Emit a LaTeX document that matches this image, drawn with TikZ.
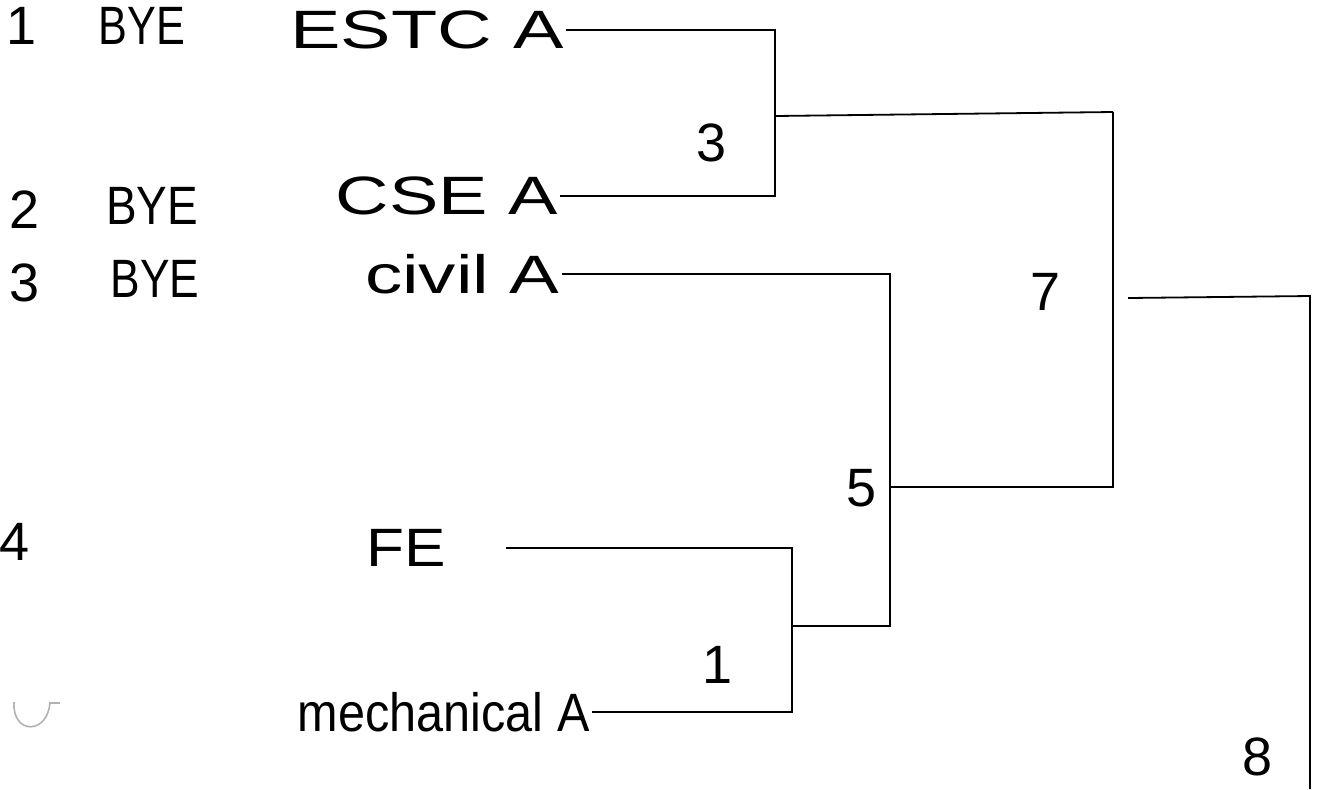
\documentclass[tikz,border=0pt]{standalone}
\usepackage{fontspec}
\setmainfont{Liberation Sans}
\newcommand{\wide}[2]{\scalebox{#1}[1]{#2}}
\begin{document}
\begin{tikzpicture}[x=0.5pt,y=-0.5pt,
  lbl/.style={font=\fontsize{27}{29}\selectfont, inner sep=1pt},
  team/.style={lbl, anchor=east},
  br/.style={line width=0.9pt, line join=miter}]
\useasboundingbox (0,0) rectangle (1320,789);
% seeds and byes
\node[lbl] (n1) at (22,26) {1};
\node[lbl] (b1) at (142,26) {\wide{0.8}{BYE}};
\node[team] (t1) at (566,30) {\wide{1.4}{ESTC A}};
\node[lbl] (n2) at (25,210) {2};
\node[lbl] (b2) at (152,206) {\wide{0.85}{BYE}};
\node[team] (t2) at (560,196) {\wide{1.37}{CSE A}};
\node[lbl] (n3) at (25,283) {3};
\node[lbl] (b3) at (155,279) {\wide{0.82}{BYE}};
\node[team] (t3) at (562,274) {\wide{1.38}{civil A}};
\node[lbl] (n4) at (15,542) {4};
\node[team] (t4) at (448,548) {\wide{1.15}{FE}};
\node[team] (t5) at (592,712) {\wide{0.9}{mechanical A}};
% match labels
\node[lbl] (w3) at (712,143) {3};
\node[lbl] (w1) at (718,665) {1};
\node[lbl] (w5) at (862,488) {5};
\node[lbl] (w7) at (1045,292) {7};
\node[lbl] (w8) at (1257,757) {8};
% bracket corners
\coordinate (a1) at (775,30);
\coordinate (a2) at (775,196);
\coordinate (ao) at (775,116);
\coordinate (c1) at (792,548);
\coordinate (c2) at (792,712);
\coordinate (co) at (792,626);
\coordinate (d1) at (890,274);
\coordinate (d2) at (890,626);
\coordinate (do) at (890,487);
\coordinate (e1) at (1113,112);
\coordinate (e2) at (1113,487);
\coordinate (eo) at (1128,298);
\coordinate (f1) at (1310,296);
\coordinate (f2) at (1310,789);
% connectors
\draw[br] (t1.east) -- (a1) -- (a2) -- (t2.east);
\draw[br] (ao) -- (e1);
\draw[br] ([xshift=29pt]t4.east) -- (c1) -- (c2) -- (t5.east);
\draw[br] (co) -- (d2) -- (d1) -- (t3.east);
\draw[br] (do) -- (e2) -- (e1);
\draw[br] (eo) -- (f1) -- (f2);
% faint partial mark at the last seed
\draw[gray!60, line width=0.8pt] (14,702) .. controls (12,735) and (48,735) .. (50,702);
\draw[gray!60, line width=0.8pt] (50,703) -- (60,703);
\end{tikzpicture}
\end{document}
